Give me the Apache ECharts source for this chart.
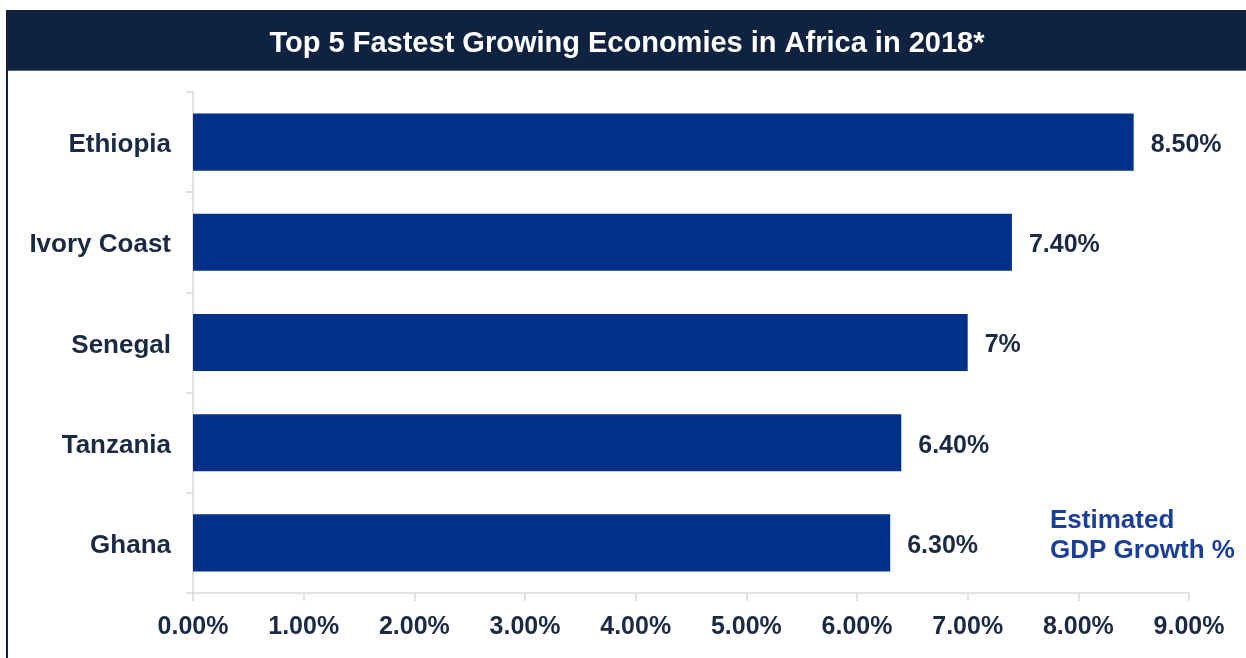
<!DOCTYPE html>
<html><head><meta charset="utf-8">
<script src="https://cdn.jsdelivr.net/npm/echarts@6/dist/echarts.min.js"></script>
<style>html,body{margin:0;padding:0;background:#fff}#c{width:1246px;height:658px}</style>
</head><body><div id="c"></div>
<script>
const titleText = 'Top 5 Fastest Growing Economies in Africa in 2018*';
const countries = ['Ethiopia', 'Ivory Coast', 'Senegal', 'Tanzania', 'Ghana'];
const growth = [8.5, 7.4, 7.0, 6.4, 6.3];
const growthLabels = ['8.50%', '7.40%', '7%', '6.40%', '6.30%'];
const noteLines = ['Estimated', 'GDP Growth %'];

const chart = echarts.init(document.getElementById('c'));
const font = '"Liberation Sans", Arial, sans-serif';
chart.setOption({
  animation: false,
  textStyle: {fontFamily: font},
  graphic: [
    {type: 'rect', shape: {x: 6, y: 10, width: 1240, height: 61}, style: {fill: '#0f2340'}},
    {type: 'rect', shape: {x: 6, y: 70, width: 1240, height: 1}, style: {fill: '#5a6a84'}},
    {type: 'rect', shape: {x: 6, y: 10, width: 2, height: 648}, style: {fill: '#0f2340'}},
    {type: 'text', x: 627, y: 44, style: {text: titleText, fill: '#ffffff', font: 'bold 29px ' + font, textAlign: 'center', textVerticalAlign: 'middle'}},
    {type: 'text', x: 1050, y: 521, style: {text: noteLines[0], fill: '#1a3e9a', font: 'bold 26px ' + font, textAlign: 'left', textVerticalAlign: 'middle'}},
    {type: 'text', x: 1050, y: 551, style: {text: noteLines[1], fill: '#1a3e9a', font: 'bold 26px ' + font, textAlign: 'left', textVerticalAlign: 'middle'}}
  ],
  grid: {left: 193, right: 57, top: 92, bottom: 65, containLabel: false},
  xAxis: {
    type: 'value', min: 0, max: 9, interval: 1,
    axisLine: {show: true, lineStyle: {color: '#d9d9d9', width: 1.5}},
    axisTick: {show: true, length: 8, lineStyle: {color: '#d9d9d9', width: 1.5}},
    splitLine: {show: false},
    axisLabel: {formatter: v => v.toFixed(2) + '%', color: '#1a2a44', fontSize: 25, fontWeight: 'bold', margin: 22}
  },
  yAxis: {
    type: 'category', data: countries, inverse: true,
    axisLine: {show: true, lineStyle: {color: '#d9d9d9', width: 1.5}},
    axisTick: {show: true, length: 7, lineStyle: {color: '#d9d9d9', width: 1.5}},
    axisLabel: {margin: 22, formatter: v => '{a|' + v + '}',
      rich: {a: {color: '#1a2a44', fontSize: 26, fontWeight: 'bold', fontFamily: font, padding: [6, 0, 0, 0]}}}
  },
  series: [{
    type: 'bar', data: growth, barCategoryGap: '43%',
    itemStyle: {color: '#003087'},
    label: {show: true, position: 'right', distance: 17, offset: [0, 3], color: '#1a2a44', fontSize: 25, fontWeight: 'bold',
      formatter: p => growthLabels[p.dataIndex]}
  }]
});
</script></body></html>
